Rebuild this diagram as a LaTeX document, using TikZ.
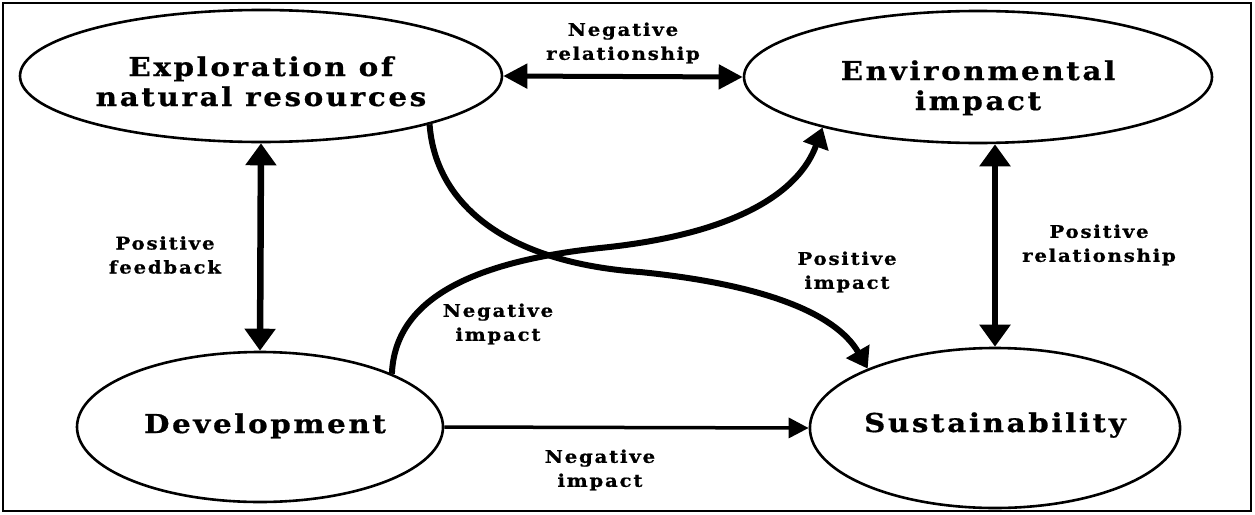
\documentclass[tikz,border=0pt]{standalone}
\usepackage{fontspec}
\setmainfont{DejaVu Serif}[FakeStretch=1.13, LetterSpace=10, BoldFeatures={FakeBold=0.7}]
\usetikzlibrary{arrows.meta,shapes.geometric}
\newcommand\lowtext[2]{\raisebox{#1}[\height][\depth]{\begin{tabular}{@{}c@{}}#2\end{tabular}}}
\tikzset{
  ell/.style={ellipse, draw, line width=2.6pt, inner sep=0pt, align=center,
    font=\bfseries\fontsize{26}{30}\selectfont},
  lbl/.style={align=center, inner sep=0pt, font=\bfseries\fontsize{17.5}{24}\selectfont},
  bigarrow/.style={line width=6.5pt, {Triangle[length=22pt,width=30pt]}-{Triangle[length=22pt,width=30pt]}},
  midarrow/.style={line width=5pt, {Triangle[length=24pt,width=24pt]}-{Triangle[length=24pt,width=24pt]}},
  curvearrow/.style={line width=6pt, -{Triangle[length=20pt,width=26pt]}},
  thinarrow/.style={line width=3.5pt, -{Triangle[length=20pt,width=20pt]}}
}
\begin{document}
\begin{tikzpicture}[x=1pt,y=-1pt]
\useasboundingbox (0,0) rectangle (1255,514);
\fill[white] (0,0) rectangle (1255,514);
\draw[line width=2.5pt] (3,3) rectangle (1251,511);

\node[ell, minimum width=482, minimum height=132] (expl) at (261,76) {\lowtext{-9pt}{Exploration of\\natural resources}};
\node[ell, minimum width=468, minimum height=132] (env) at (978,77) {\lowtext{-12pt}{Environmental\\impact}};
\node[ell, minimum width=366, minimum height=150] (dev) at (260,427) {\lowtext{0pt}{\hspace*{10pt}Development}};
\node[ell, minimum width=364, minimum height=160] (sust) at (995,428) {\lowtext{2pt}{Sustainability}};

\draw[midarrow] (expl.east) -- (env.west);
\draw[bigarrow] (expl.south) -- (dev.north);
\draw[bigarrow] (env.south -| sust.north) -- (sust.north);
\draw[thinarrow] (dev.east) -- (sust.west);

\draw[curvearrow] (expl.-16) .. controls (435,200) and (500,262) .. (640,272)
  .. controls (760,284) and (835,312) .. (sust.155);
\draw[curvearrow] (dev.22) .. controls (395,300) and (470,262) .. (600,248)
  .. controls (740,234) and (800,190) .. (env.198);

\node[lbl] (l1) at (623,43) {Negative\\relationship};
\node[lbl] (l2) at (165,255) {Positive\\feedback};
\node[lbl] (l3) at (1099,245) {Positive\\relationship};
\node[lbl] (l4) at (847,272) {Positive\\impact};
\node[lbl] (l5) at (498,324) {Negative\\impact};
\node[lbl] (l6) at (600,470) {Negative\\impact};
\end{tikzpicture}
\end{document}
